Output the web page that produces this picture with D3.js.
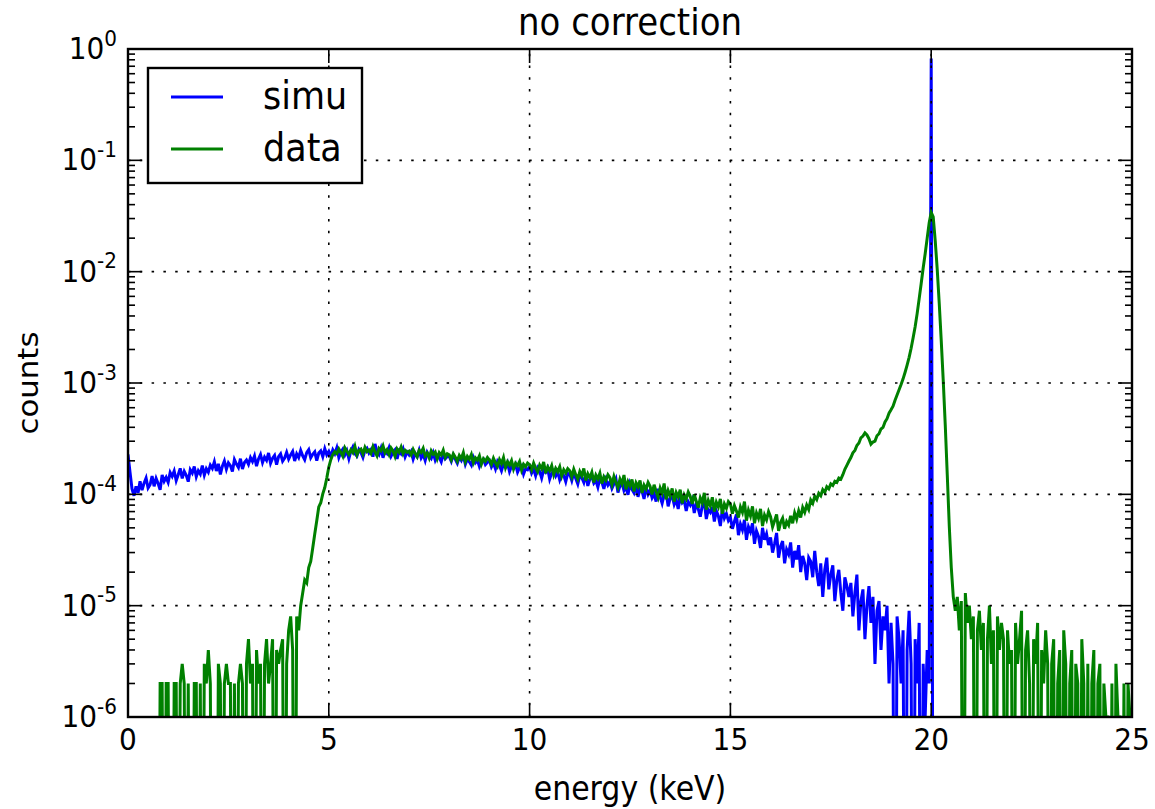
<!DOCTYPE html>
<html>
<head>
<meta charset="utf-8">
<script src="https://cdn.jsdelivr.net/npm/d3@7"></script>
<style>
  html, body { margin: 0; padding: 0; background: #fff; }
  svg { display: block; font-family: "DejaVu Sans", sans-serif; }
</style>
</head>
<body>
<svg width="1155" height="809"></svg>
<script>
// histogram bins: 0.05 keV wide, starting at 0 keV
const binWidth = 0.05;
// raw counts per bin; plotted value = counts * countNorm
const countNorm = 1e-6;

// simulation, 0 .. 20.05 keV (empty above the line)
const simuCounts = [
  228,158,112,97,118,103,131,109,126,140,114,122,146,118,139,125,110,149,131,142,
  128,157,145,162,133,150,171,139,161,148,130,166,155,178,144,163,152,181,149,170,
  158,183,171,196,162,188,151,179,199,168,192,181,160,205,187,174,209,169,193,203,
  186,214,197,221,179,208,228,193,216,202,235,190,211,224,185,218,231,199,212,238,
  207,226,243,199,231,214,248,222,205,237,252,213,229,241,201,235,246,218,257,226,
  243,219,251,232,262,214,239,255,226,247,209,244,266,231,221,253,238,215,249,260,
  235,252,218,284,241,227,259,213,246,233,262,220,239,251,208,244,231,256,217,240,
  226,243,207,234,218,249,212,229,201,238,221,210,236,203,224,215,196,230,209,219,
  219,198,225,206,190,215,201,222,186,208,196,183,214,192,203,178,199,207,185,194,
  201,176,190,169,197,182,163,188,175,192,160,179,171,186,158,174,181,152,170,166,
  178,155,169,147,173,161,140,166,158,171,137,155,163,146,159,135,152,148,130,154,
  151,133,157,139,124,148,141,128,152,119,137,145,126,133,116,140,129,112,135,121,
  130,113,124,137,104,119,127,108,116,99,125,111,103,120,95,113,107,91,116,100,
  109,93,101,86,112,95,83,99,104,78,92,97,81,90,74,95,84,88,71,86,
  80,89,68,82,74,63,79,86,60,73,69,77,57,71,64,52,74,61,67,58,
  62,49,57,66,43,54,48,59,39,51,46,55,36,47,42,33,50,39,44,35,
  41,30,36,45,27,34,38,24,32,29,37,22,31,26,35,20,28,24,17,27,
  25,18,31,20,15,24,12,21,27,14,19,23,11,17,21,13,9,18,15,12,
  16,8,13,19,6,11,14,5,10,15,7,12,3,9,11,4,8,6,10,2,
  7,3,0,8,5,2,6,0,4,9,3,0,5,2,7,0,3,1,4,2,
  820000,0
];

// measured data, 0 .. 25 keV
const dataCounts = [
  0,0,0,0,0,0,0,0,0,0,0,0,0,0,0,0,2,2,0,2,
  2,0,0,2,2,0,2,3,2,0,2,0,0,2,2,0,2,0,3,2,
  4,2,0,0,0,3,2,0,2,3,2,2,0,2,0,2,3,2,0,3,
  5,2,3,0,4,2,3,0,3,5,2,3,5,0,4,3,4,5,0,3,
  6,8,4,0,8,6,10,13,17,16,22,25,33,44,58,77,84,101,115,140,
  176,205,228,241,232,256,238,219,262,244,229,251,237,270,226,248,255,231,264,242,
  250,233,268,241,222,259,247,273,236,252,228,261,245,219,256,240,266,231,249,238,
  244,226,253,232,217,248,238,259,222,235,212,246,229,240,209,237,225,249,214,231,
  226,204,231,215,198,224,210,237,196,219,207,228,192,213,203,222,187,209,198,214,
  203,186,211,192,178,205,189,214,174,196,183,201,169,190,181,197,165,186,177,191,
  185,166,191,172,159,183,170,195,155,176,163,181,150,171,160,177,146,166,155,170,
  163,144,168,150,137,160,147,171,133,153,141,158,128,149,138,155,125,144,134,150,
  141,122,145,128,115,137,124,149,111,130,119,136,106,127,117,133,103,121,112,128,
  118,100,122,106,94,114,102,125,90,108,97,113,86,104,95,110,83,99,91,105,
  96,82,100,87,76,93,84,103,73,88,79,94,70,85,77,91,67,82,75,86,
  82,67,79,71,62,77,69,86,58,72,64,78,55,68,61,74,52,65,59,70,
  63,51,58,66,47,56,61,49,57,53,64,55,68,60,71,62,76,69,80,73,
  89,83,96,90,102,97,110,104,117,112,124,120,131,128,140,137,150,168,182,198,
  214,236,248,275,289,322,334,356,341,316,282,295,301,336,350,386,399,447,478,536,
  575,620,700,780,870,970,1090,1250,1450,1700,2050,2550,3200,4200,5700,7800,10800,14500,20000,27500,
  34000,31000,19000,10500,5200,2400,1050,420,150,52,22,12,9,12,6,11,0,13,7,10,
  5,8,0,6,9,4,7,0,5,10,3,6,0,8,4,7,5,0,6,3,
  4,0,7,3,5,9,0,4,6,2,0,5,3,7,0,4,2,6,3,0,
  3,5,0,2,4,0,6,3,0,2,4,0,3,2,0,5,2,0,3,0,
  2,4,0,2,3,0,2,1,1,0,2,0,3,1,1,0,2,0,2,1,
  1
];

const seriesNames = ['simu', 'data'];
const seriesColors = ['#0000ff', '#008000'];
const xTicks = [0, 5, 10, 15, 20, 25];
const yExponents = [0, -1, -2, -3, -4, -5, -6];

const width = 1155, height = 809;
const margin = {top: 49, right: 23, bottom: 92, left: 128};
const w = width - margin.left - margin.right;
const h = height - margin.top - margin.bottom;
const stretch = 1.1; // the picture's text is a little taller than wide

const x = d3.scaleLinear().domain([0, 25]).range([0, w]);
const y = d3.scaleLog().domain([1e-6, 1]).range([h, 0]);

const svg = d3.select('svg');
const g = svg.append('g').attr('transform', `translate(${margin.left},${margin.top})`);

g.append('clipPath').attr('id', 'plot-clip')
  .append('rect').attr('width', w).attr('height', h);

// empty bins fall far below the axis, like matplotlib's clipped log
const line = d3.line()
  .x((d, i) => x(i * binWidth))
  .y(d => y(d > 0 ? d * countNorm : 1e-9));

const plot = g.append('g').attr('clip-path', 'url(#plot-clip)');
[simuCounts, dataCounts].forEach((counts, k) => {
  plot.append('path')
    .datum(counts)
    .attr('d', line)
    .attr('fill', 'none')
    .attr('stroke', seriesColors[k])
    .attr('stroke-width', 3)
    .attr('stroke-linejoin', 'miter');
});

// dotted grid, drawn over the lines
const grid = g.append('g')
  .attr('stroke', '#000')
  .attr('stroke-width', 1.6)
  .attr('stroke-dasharray', '2.5,9.3');
grid.selectAll('.gx').data(xTicks.slice(1, -1)).enter().append('line')
  .attr('x1', d => x(d)).attr('x2', d => x(d))
  .attr('y1', h).attr('y2', 0);
grid.selectAll('.gy').data(yExponents.slice(1, -1)).enter().append('line')
  .attr('y1', d => y(Math.pow(10, d))).attr('y2', d => y(Math.pow(10, d)))
  .attr('x1', 0).attr('x2', w);

// ticks on all four sides, pointing inwards
const ticks = g.append('g').attr('stroke', '#000').attr('stroke-width', 1.6);
xTicks.forEach(t => {
  ticks.append('line').attr('x1', x(t)).attr('x2', x(t)).attr('y1', h).attr('y2', h - 14);
  ticks.append('line').attr('x1', x(t)).attr('x2', x(t)).attr('y1', 0).attr('y2', 14);
});
yExponents.forEach(e => {
  const yy = y(Math.pow(10, e));
  ticks.append('line').attr('x1', 0).attr('x2', 14).attr('y1', yy).attr('y2', yy);
  ticks.append('line').attr('x1', w).attr('x2', w - 14).attr('y1', yy).attr('y2', yy);
  if (e < 0) {
    for (let m = 2; m <= 9; m++) {
      const ym = y(m * Math.pow(10, e));
      ticks.append('line').attr('x1', 0).attr('x2', 7).attr('y1', ym).attr('y2', ym);
      ticks.append('line').attr('x1', w).attr('x2', w - 7).attr('y1', ym).attr('y2', ym);
    }
  }
});

g.append('rect')
  .attr('width', w).attr('height', h)
  .attr('fill', 'none').attr('stroke', '#000').attr('stroke-width', 2.4);

function label(tx, ty, size, anchor, rotate) {
  const holder = g.append('g')
    .attr('transform', `translate(${tx},${ty}) scale(1,${stretch})` + (rotate ? ` rotate(${rotate})` : ''));
  return holder.append('text')
    .attr('font-size', size)
    .attr('text-anchor', anchor)
    .attr('fill', '#000');
}

xTicks.forEach(t => {
  label(x(t), h + 33, 28, 'middle').text(t);
});

yExponents.forEach(e => {
  const t = label(-11, y(Math.pow(10, e)) + 10, 28, 'end');
  t.append('tspan').text('10');
  t.append('tspan').attr('font-size', 20).attr('dy', -12).text(String(e));
});

label(w / 2, -14, 34, 'middle').text('no correction');
label(w / 2, h + 83, 30, 'middle').text('energy (keV)');
label(-90, h / 2, 28, 'middle', -90).text('counts');

// legend
const legend = g.append('g').attr('transform', 'translate(20,19)');
legend.append('rect')
  .attr('width', 214).attr('height', 115)
  .attr('fill', '#fff').attr('stroke', '#000').attr('stroke-width', 2.4);
seriesNames.forEach((name, k) => {
  const ly = 29 + k * 52;
  legend.append('line')
    .attr('x1', 23).attr('x2', 75).attr('y1', ly).attr('y2', ly)
    .attr('stroke', seriesColors[k]).attr('stroke-width', 3);
  legend.append('g')
    .attr('transform', `translate(115,${ly + 12}) scale(1,${stretch})`)
    .append('text').attr('font-size', 35).text(name);
});
</script>
</body>
</html>
